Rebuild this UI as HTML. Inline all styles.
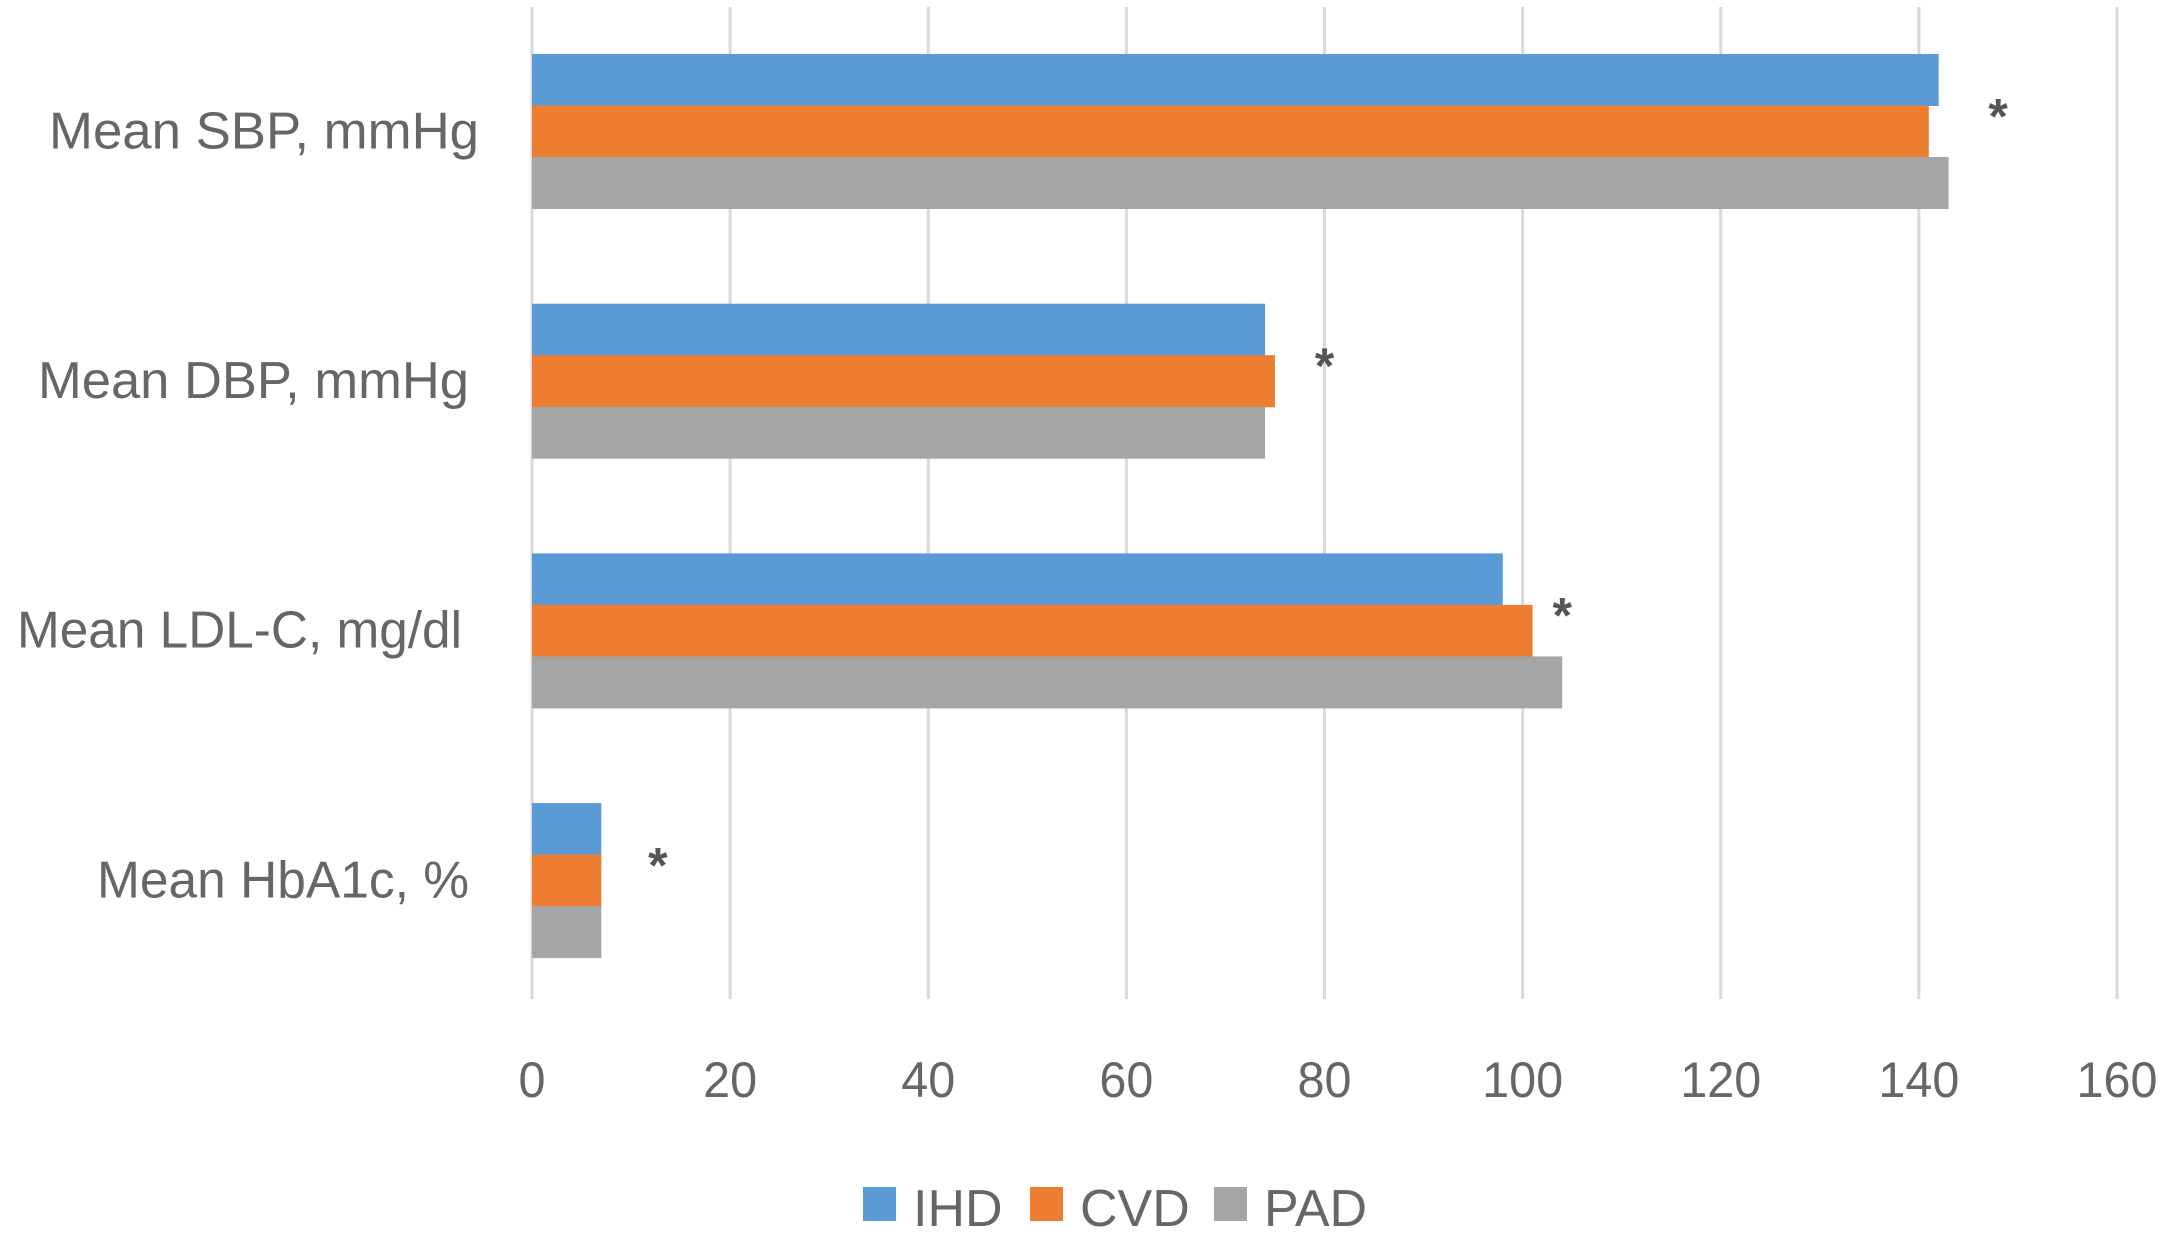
<!DOCTYPE html>
<html><head><meta charset="utf-8"><style>
html,body{margin:0;padding:0;background:#fff;}
svg{display:block;}
text{font-family:"Liberation Sans",sans-serif;}
</style></head><body>
<svg id="chart" width="2175" height="1234" viewBox="0 0 2175 1234" xmlns="http://www.w3.org/2000/svg">
<g id="grid"></g>
<g id="bars"></g>
<g id="cats"></g>
<g id="ticks"></g>
<g id="stars"></g>
<g id="legend"></g>
</svg>
<script>
const categories = ["Mean SBP, mmHg","Mean DBP, mmHg","Mean LDL-C, mg/dl","Mean HbA1c, %"];
const seriesNames = ["IHD","CVD","PAD"];
const ihdValues = [142, 74, 98, 7];
const cvdValues = [141, 75, 101, 7];
const padValues = [143, 74, 104, 7];
const starValues = [148, 80, 104, 12.7];
const tickValues = [0,20,40,60,80,100,120,140,160];

const colors = ["#5B9BD5","#ED7D31","#A5A5A5"];
const labelRight = [479, 469, 462, 469];
const labelWidth = [430, 431, 445, 372];
const X0 = 532, X1 = 2117, VMAX = 160;
const xs = v => X0 + (X1 - X0) * v / VMAX;
const groupTop0 = 54, groupPitch = 249.7, barH = 51.5;
const gy = i => groupTop0 + i * groupPitch;
const NS = "http://www.w3.org/2000/svg";
function mk(tag, attrs, parent){const e=document.createElementNS(NS,tag);for(const k in attrs)e.setAttribute(k,attrs[k]);parent.appendChild(e);return e;}

const grid=document.getElementById('grid'), ticks=document.getElementById('ticks');
tickValues.forEach(t=>{
  const l=mk('line',{x1:xs(t),x2:xs(t),y1:7,y2:999,stroke:'#d9d9d9','stroke-width':3},grid);
  
  
  const tx=mk('text',{x:xs(t),y:1097,'text-anchor':'middle','font-size':50,fill:'#666',textLength:String(t).length*27,lengthAdjust:'spacingAndGlyphs'},ticks);
  tx.textContent=t;
  
  
});

const bars=document.getElementById('bars'), cats=document.getElementById('cats'), stars=document.getElementById('stars');
const all=[ihdValues,cvdValues,padValues];
categories.forEach((c,i)=>{
  all.forEach((arr,s)=>{
    const r=mk('rect',{x:X0,y:gy(i)+s*barH,width:xs(arr[i])-X0,height:barH+0.5,fill:colors[s]},bars);
    
    
  });
  const t=mk('text',{x:labelRight[i],y:gy(i)+barH*1.5+17,'text-anchor':'end','font-size':52,fill:'#666',textLength:labelWidth[i],lengthAdjust:'spacingAndGlyphs'},cats);
  t.textContent=c;
  
  
  const st=mk('text',{x:xs(starValues[i]),y:gy(i)+barH*1.5+2,'text-anchor':'middle','font-size':50,'font-weight':'bold',fill:'#555'},stars);
  st.textContent='*';
  
  
});

const legend=document.getElementById('legend');
const legX=[863,1030,1214];
seriesNames.forEach((n,s)=>{
  const r=mk('rect',{x:legX[s],y:1187,width:33,height:34,fill:colors[s]},legend);
  
  
  const t=mk('text',{x:legX[s]+50,y:1226,'font-size':52,fill:'#666'},legend);
  t.textContent=n;
  
  
});
</script>
</body></html>
